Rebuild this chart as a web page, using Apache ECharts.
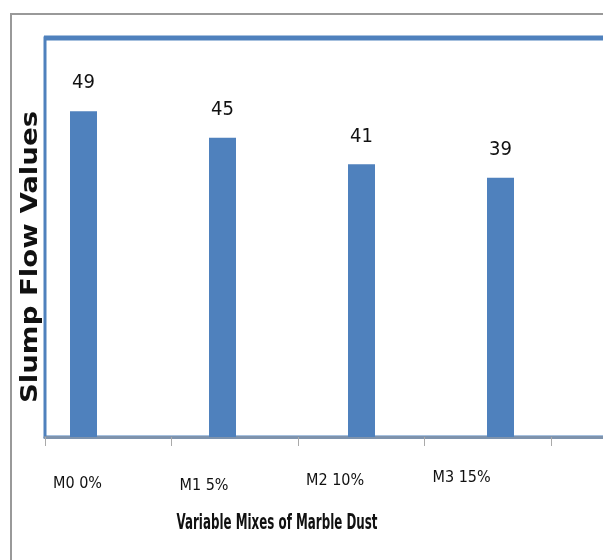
<!DOCTYPE html>
<html>
<head>
<meta charset="utf-8">
<script src="https://cdn.jsdelivr.net/npm/echarts@6/dist/echarts.min.js"></script>
<style>
  html, body { margin: 0; padding: 0; background: #fff; }
  #chart { width: 603px; height: 560px; }
</style>
</head>
<body>
<div id="chart"></div>
<script>
// slump flow per mix
const categories = ['M0 0%', 'M1 5%', 'M2 10%', 'M3 15%'];
const slumpValues = [49, 45, 41, 39];

const narrow = '"DejaVu Sans Condensed", "Liberation Sans Narrow", sans-serif';
const barBlue = '#4F81BD';

// labels in the original sit at slightly different heights
const labelDrop = [9, 11, 6, 3];
const labelRich = {};
labelDrop.forEach(function (d, i) {
  labelRich['s' + i] = { padding: [d, 0, 0, 0], fontFamily: narrow, fontSize: 16, color: '#111' };
});

const chart = echarts.init(document.getElementById('chart'));

const option = {
  animation: false,
  grid: [
    // bars
    { left: 14, width: 556, top: 38, bottom: 123, outerBoundsMode: 'none' },
    // frame + label axis (runs past the right edge)
    { left: 45, width: 569, top: 38, bottom: 123, outerBoundsMode: 'none', show: true, borderColor: barBlue, borderWidth: 3, backgroundColor: 'transparent' }
  ],
  xAxis: [
    {
      type: 'category',
      gridIndex: 0,
      data: categories,
      show: false
    },
    {
      type: 'value',
      gridIndex: 1,
      min: 0,
      max: 569 / 126.5,
      interval: 1,
      axisLine: { show: true, lineStyle: { color: '#7e93ad', width: 3 } },
      axisTick: { show: true, length: 9, lineStyle: { color: '#aaaaaa', width: 1 } },
      splitLine: { show: false },
      axisLabel: {
        show: true,
        showMaxLabel: false,
        margin: 30,
        align: 'left',
        padding: [0, 0, 0, 8],
        fontFamily: narrow,
        fontSize: 16,
        color: '#111',
        rich: labelRich,
        formatter: function (v) {
          const i = Math.round(v);
          return categories[i] ? '{s' + i + '|' + categories[i] + '}' : '';
        }
      }
    }
  ],
  yAxis: [
    { type: 'value', gridIndex: 0, min: 0, max: 60, show: false },
    { type: 'value', gridIndex: 1, min: 0, max: 60, show: false }
  ],
  series: [
    {
      type: 'bar',
      xAxisIndex: 0,
      yAxisIndex: 0,
      data: slumpValues,
      barWidth: 27,
      itemStyle: { color: barBlue },
      label: {
        show: true,
        position: 'top',
        distance: 18,
        fontFamily: narrow,
        fontSize: 20,
        color: '#111'
      }
    }
  ],
  graphic: [
    {
      type: 'rect',
      silent: true,
      z: -10,
      shape: { x: 11, y: 14, width: 700, height: 700 },
      style: { fill: 'none', stroke: '#999999', lineWidth: 2 }
    },
    {
      type: 'line',
      silent: true,
      shape: { x1: 44, y1: 38, x2: 603, y2: 38 },
      style: { stroke: barBlue, lineWidth: 5 }
    },
    {
      type: 'text',
      x: 277,
      y: 523,
      scaleX: 0.6,
      style: {
        text: 'Variable Mixes of Marble Dust',
        fontFamily: narrow,
        fontWeight: 'bold',
        fontSize: 22,
        fill: '#111',
        align: 'center',
        verticalAlign: 'middle'
      }
    },
    {
      type: 'text',
      x: 31,
      y: 257,
      rotation: Math.PI / 2,
      scaleX: 1.2,
      style: {
        text: 'Slump Flow Values',
        fontFamily: '"DejaVu Sans", sans-serif',
        fontWeight: 'bold',
        fontSize: 23,
        fill: '#111',
        align: 'center',
        verticalAlign: 'middle'
      }
    }
  ]
};

chart.setOption(option);
</script>
</body>
</html>
